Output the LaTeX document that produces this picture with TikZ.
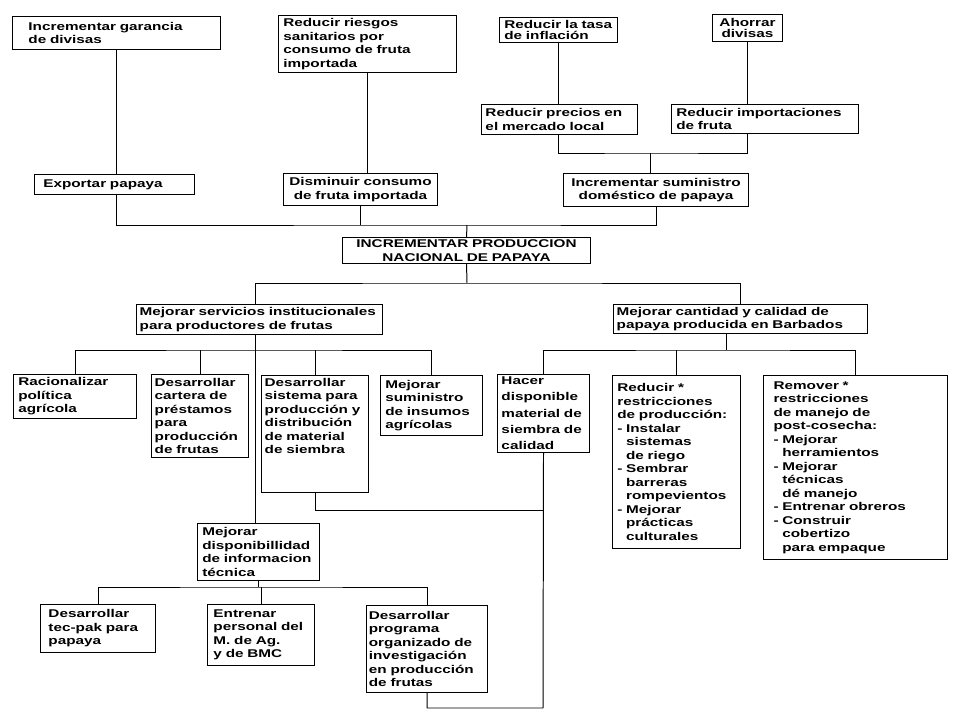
\documentclass[tikz,border=0pt]{standalone}
\usepackage{fontspec}
\newfontfamily\boxfont[FakeStretch=1.36]{Liberation Sans}
\newcommand{\ind}{\hspace*{0.22cm}}
\tikzset{
  box/.style={draw=black,line width=0.7pt,anchor=north west,align=left,
              inner xsep=0.12cm,inner ysep=0.06cm,
              font=\boxfont\bfseries\fontsize{8}{9.6}\selectfont},
  boxc/.style={box,align=center},
  link/.style={draw=black,line width=0.7pt},
}
\begin{document}
\begin{tikzpicture}[x=0.025cm,y=-0.025cm]
  \useasboundingbox (0,0) rectangle (960,720);
  % ends and means above the core problem
  \node[box,inner xsep=0.4cm,text width=4.4cm,minimum height=0.825cm] (fin1) at (12,16)
    {Incrementar garancia\\de divisas};
  \node[box,text width=4.21cm,minimum height=1.425cm] (fin2) at (278,15)
    {Reducir riesgos\\sanitarios por\\consumo de fruta\\importada};
  \node[box,text width=2.71cm,minimum height=0.625cm] (fin3) at (499,17)
    {Reducir la tasa\\[-2pt]de inflación};
  \node[boxc,text width=1.51cm,minimum height=0.675cm] (fin4) at (712,14)
    {Ahorrar\\[-2pt]divisas};
  \node[box,inner xsep=0.1cm,text width=3.7cm,minimum height=0.75cm] (sub3) at (481,104)
    {Reducir precios en\\el mercado local};
  \node[box,text width=4.435cm,minimum height=0.725cm] (sub4) at (671,104)
    {Reducir importaciones\\de fruta};
  \node[box,inner xsep=0.22cm,text width=3.56cm,minimum height=0.5cm] (out1) at (34,174)
    {Exportar papaya};
  \node[boxc,text width=3.61cm,minimum height=0.8cm] (out2) at (283,173)
    {Disminuir consumo\\de fruta importada};
  \node[boxc,text width=4.385cm,minimum height=0.825cm] (out3) at (563,173)
    {Incrementar suministro\\doméstico de papaya};
  \node[boxc,text width=5.96cm,minimum height=0.65cm] (core) at (342,237)
    {INCREMENTAR PRODUCCION\\NACIONAL DE PAPAYA};
  % two main lines of action
  \node[box,inner xsep=0.08cm,text width=5.99cm,minimum height=0.75cm] (inst) at (136,304)
    {Mejorar servicios institucionales\\para productores de frutas};
  \node[box,inner xsep=0.08cm,text width=6.19cm,minimum height=0.725cm] (qual) at (613,304)
    {Mejorar cantidad y calidad de\\papaya producida en Barbados};
  \node[box,text width=2.835cm,minimum height=1.1cm] (pol) at (13,374)
    {Racionalizar\\política\\agrícola};
  \node[box,inner xsep=0.08cm,text width=2.265cm,minimum height=2.075cm] (loan) at (151,374)
    {Desarrollar\\cartera de\\préstamos\\para\\producción\\de frutas};
  \node[box,inner xsep=0.08cm,text width=2.515cm,text depth=2.6cm] (seedsys) at (261,375)
    {Desarrollar\\sistema para\\producción~y\\distribución\\de material\\de siembra};
  \node[box,text width=2.31cm,minimum height=1.5cm] (inputs) at (380,375)
    {Mejorar\\suministro\\de insumos\\agrícolas};
  \node[box,inner xsep=0.1cm,text width=2.1cm,minimum height=1.925cm] (seed) at (497,374)
    {Hacer\\[2pt]disponible\\[2pt]material~de\\[2pt]siembra~de\\[2pt]calidad};
  \node[box,text width=2.96cm,minimum height=4.325cm] (prod) at (612,375)
    {Reducir *\\restricciones\\de producción:\\- Instalar\\\ind sistemas\\\ind de riego\\- Sembrar\\\ind barreras\\\ind rompevientos\\- Mejorar\\\ind prácticas\\\ind culturales};
  \node[box,inner xsep=0.25cm,text width=4.1cm,minimum height=4.6cm] (post) at (763,375)
    {Remover *\\restricciones\\de manejo de\\post-cosecha:\\- Mejorar\\\ind herramientos\\- Mejorar\\\ind técnicas\\\ind dé manejo\\- Entrenar obreros\\- Construir\\\ind cobertizo\\\ind para empaque};
  \node[box,text width=2.81cm,minimum height=1.425cm] (info) at (197,523)
    {Mejorar\\disponibillidad\\de informacion\\técnica};
  \node[box,inner xsep=0.2cm,text width=2.475cm,minimum height=1.2cm] (tec) at (40,604)
    {Desarrollar\\tec-pak para\\papaya};
  \node[box,inner xsep=0.15cm,text width=2.375cm,minimum height=1.525cm] (staff) at (207,604)
    {Entrenar\\personal del\\M. de Ag.\\y de BMC};
  \node[box,inner xsep=0.06cm,text width=2.905cm,minimum height=2.175cm] (res) at (366,605)
    {Desarrollar\\programa\\organizado~de\\investigación\\en producción\\de frutas};
  % junction points
  \coordinate (jn) at (650,153);
  \coordinate (busA) at (467,225);
  \coordinate (busB) at (467,283);
  \coordinate (spine) at (255,350);
  \coordinate (busD) at (726,350);
  \coordinate (busE) at (543,708);
  \coordinate (busF) at (543,510);
  \coordinate (busG) at (260,587);
  \draw[link] (fin1.south) -- (fin1.south |- out1.north);
  \draw[link] (fin2.south) -- (fin2.south |- out2.north);
  \draw[link] (fin3.south) -- (fin3.south |- sub3.north);
  \draw[link] (fin4.south) -- (fin4.south |- sub4.north);
  \draw[link] (sub3.south -| fin3.south) |- (jn) -| (sub4.south -| fin4.south);
  \draw[link] (jn) -- (jn |- out3.north);
  \draw[link] (out1.south -| fin1.south) |- (busA) -| (out3.south);
  \draw[link] (out2.south) -- (out2.south |- busA);
  \draw[link] (busA) -- (core.north);
  \draw[link] (core.south) -- (busB);
  \draw[link] (inst.north -| spine) |- (busB) -| (qual.north);
  \draw[link] (inst.south -| spine) -- (info.north -| spine);
  \draw[link] (pol.north) |- (spine) -| (inputs.north);
  \draw[link] (loan.north) -- (loan.north |- spine);
  \draw[link] (seedsys.north) -- (seedsys.north |- spine);
  \draw[link] (qual.south -| busD) -- (busD);
  \draw[link] (seed.north) |- (busD) -| (post.north);
  \draw[link] (prod.north) -- (prod.north |- busD);
  \draw[link] (seed.south) -- (busE) -| (res.south);
  \draw[link] (seedsys.south) |- (busF);
  \draw[link] (info.south) -- (info.south |- busG);
  \draw[link] (tec.north) |- (busG) -| (res.north);
  \draw[link] (staff.north) -- (staff.north |- busG);
\end{tikzpicture}
\end{document}
